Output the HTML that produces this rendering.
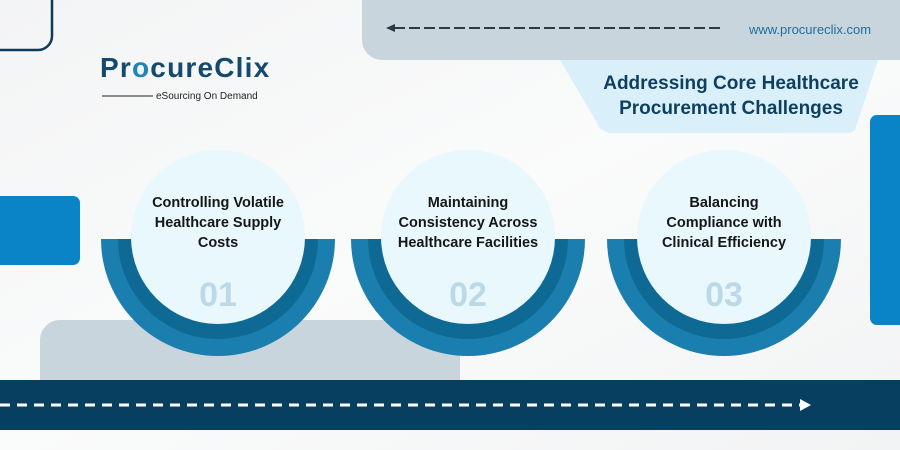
<!DOCTYPE html>
<html><head><meta charset="utf-8"><style>
html,body{margin:0;padding:0}
body{width:900px;height:450px;overflow:hidden;background:#f7f8f9;font-family:"Liberation Sans",sans-serif}
</style></head><body>
<svg width="900" height="450" viewBox="0 0 900 450" xmlns="http://www.w3.org/2000/svg" style="position:absolute;left:0;top:0">
<defs>
<linearGradient id="bg" x1="0" y1="0" x2="1" y2="1">
<stop offset="0" stop-color="#f3f4f5"/><stop offset="0.5" stop-color="#fafbfb"/><stop offset="1" stop-color="#f2f3f4"/>
</linearGradient>
</defs>
<rect width="900" height="450" fill="url(#bg)"/>
<rect x="-30" y="-30" width="82" height="80" rx="14" fill="none" stroke="#0d3b5a" stroke-width="2.5"/>
<path d="M362,0 H900 V60 H382 A20,20 0 0 1 362,40 Z" fill="#c9d5dd"/>
<line x1="394" y1="28" x2="722" y2="28" stroke="#2b3a44" stroke-width="2" stroke-dasharray="11,4"/>
<polygon points="386,28 395,24 395,32" fill="#2b3a44"/>
<text x="810" y="34" text-anchor="middle" font-size="13" fill="#1f6e9c">www.procureclix.com</text>
<polygon points="560,60 878,60 855,130 850,133 608,133 600,128" fill="#d9f0fb"/>
<text x="731" y="89" text-anchor="middle" font-size="19" font-weight="bold" fill="#0e3f5f">Addressing Core Healthcare</text>
<text x="731" y="114" text-anchor="middle" font-size="19" font-weight="bold" fill="#0e3f5f">Procurement Challenges</text>
<rect x="-10" y="196" width="90" height="69" rx="7" fill="#0a84c6"/>
<rect x="870" y="115" width="50" height="210" rx="7" fill="#0a84c6"/>
<path d="M40,380 V340 A20,20 0 0 1 60,320 H460 V380 Z" fill="#c9d5dd"/>
<rect x="0" y="380" width="900" height="50" fill="#073f60"/>
<line x1="0" y1="405" x2="800" y2="405" stroke="#fff" stroke-width="3" stroke-dasharray="10,7"/>
<polygon points="800,399 811,405 800,411" fill="#fff"/>
<g>
<path d="M101,239 A117,117 0 0 0 335,239 Z" fill="#1a7fae"/>
<path d="M118,239 A100,100 0 0 0 318,239 Z" fill="#0e6a95"/>
<circle cx="218" cy="237" r="87" fill="#e8f8fd"/>
<path d="M351,239 A117,117 0 0 0 585,239 Z" fill="#1a7fae"/>
<path d="M368,239 A100,100 0 0 0 568,239 Z" fill="#0e6a95"/>
<circle cx="468" cy="237" r="87" fill="#e8f8fd"/>
<path d="M607,239 A117,117 0 0 0 841,239 Z" fill="#1a7fae"/>
<path d="M624,239 A100,100 0 0 0 824,239 Z" fill="#0e6a95"/>
<circle cx="724" cy="237" r="87" fill="#e8f8fd"/>
</g>
<g font-size="14.5" font-weight="bold" fill="#161616" text-anchor="middle">
<text x="218" y="207">Controlling Volatile</text>
<text x="218" y="227">Healthcare Supply</text>
<text x="218" y="247">Costs</text>
<text x="468" y="207">Maintaining</text>
<text x="468" y="227">Consistency Across</text>
<text x="468" y="247">Healthcare Facilities</text>
<text x="724" y="207">Balancing</text>
<text x="724" y="227">Compliance with</text>
<text x="724" y="247">Clinical Efficiency</text>
</g>
<g font-size="34" font-weight="bold" fill="#bcd9e8" text-anchor="middle">
<text x="218" y="306">01</text>
<text x="468" y="306">02</text>
<text x="724" y="306">03</text>
</g>
<text x="100" y="77" font-size="28" font-weight="bold" fill="#144a6e" letter-spacing="1.2">Pr<tspan fill="#1f84b8">o</tspan>cureClix</text>
<line x1="102" y1="96" x2="153" y2="96" stroke="#222" stroke-width="1"/>
<text x="156" y="99" font-size="10" fill="#222">eSourcing On Demand</text>
</svg>
</body></html>
